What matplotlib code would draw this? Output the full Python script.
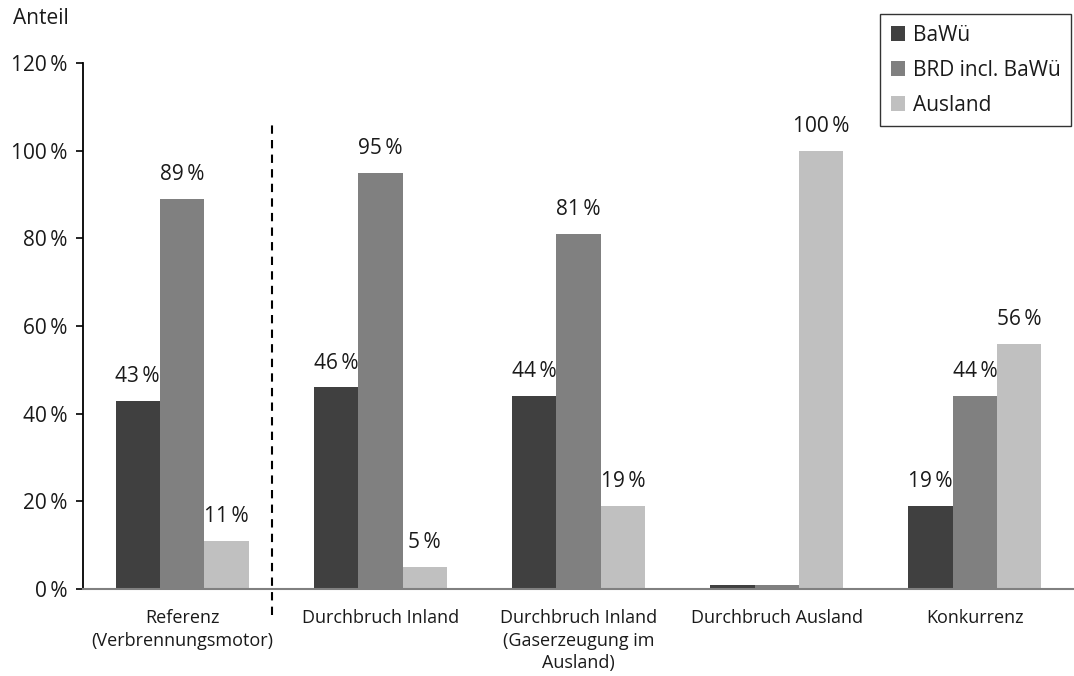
import matplotlib
matplotlib.use("Agg")
import matplotlib.pyplot as plt
from matplotlib.patches import Patch
import numpy as np

plt.rcParams['font.family'] = ['Open Sans', 'DejaVu Sans']

categories = ["Referenz\n(Verbrennungsmotor)", "Durchbruch Inland",
              "Durchbruch Inland\n(Gaserzeugung im\nAusland)",
              "Durchbruch Ausland", "Konkurrenz"]
series_names = ["BaWü", "BRD incl. BaWü", "Ausland"]
bawue = [43, 46, 44, 1, 19]
brd = [89, 95, 81, 1, 44]
ausland = [11, 5, 19, 100, 56]
# small shares in "Durchbruch Ausland" carry no label
show_label = [[True, True, True, False, True],
              [True, True, True, False, True],
              [True, True, True, True, True]]
yticks = [0, 20, 40, 60, 80, 100, 120]
colors = ["#404040", "#808080", "#c0c0c0"]

fig = plt.figure(figsize=(10.74, 6.76), dpi=100)
ax = fig.add_axes([0.0773, 0.1287, 0.9227, 0.7781])

x = np.arange(len(categories))
w = 0.224
series = [bawue, brd, ausland]
for i, (vals, col) in enumerate(zip(series, colors)):
    pos = x + (i - 1) * w
    ax.bar(pos, vals, width=w, color=col, edgecolor="none", zorder=2)
    for p, v, s in zip(pos, vals, show_label[i]):
        if s:
            ax.annotate(f"{v}\u2009%", (p, v), xytext=(0, 13.5),
                        textcoords="offset points", ha="center",
                        va="baseline", fontsize=15, color="#1a1a1a")

ax.set_xlim(-0.5, len(categories) - 0.5)
ax.set_ylim(0, 120)
ax.set_yticks(yticks)
ax.set_yticklabels([f"{t}\u2009%" for t in yticks], fontsize=15, color="#1a1a1a")
ax.set_xticks(x)
ax.set_xticklabels(categories, fontsize=13, color="#1a1a1a", linespacing=1.33)
ax.tick_params(axis="x", length=0, pad=14.5)
ax.tick_params(axis="y", length=5, width=1.2, pad=6, direction="out")

for s in ["top", "right"]:
    ax.spines[s].set_visible(False)
ax.spines["left"].set_color("black")
ax.spines["left"].set_linewidth(1.3)
ax.spines["bottom"].set_color("#808080")
ax.spines["bottom"].set_linewidth(1.5)

# separator between reference and scenarios
ax.plot([0.455, 0.455], [-6, 106], color="black", lw=1.5,
        ls=(0, (4, 3)), clip_on=False, zorder=3)

fig.text(0.012, 0.973, "Anteil", fontsize=15, color="#1a1a1a", va="center")

handles = [Patch(facecolor=c, edgecolor="none") for c in colors]
leg = fig.legend(handles, series_names, loc="upper right",
                 bbox_to_anchor=(0.997, 0.979), fontsize=15, frameon=True,
                 fancybox=False, edgecolor="black", handlelength=0.7,
                 handleheight=0.7, handletextpad=0.35, labelspacing=0.67,
                 borderpad=0.5, borderaxespad=0)
leg.get_frame().set_linewidth(1.0)
for t in leg.get_texts():
    t.set_color("#1a1a1a")

fig.savefig("out.png", dpi=100)
